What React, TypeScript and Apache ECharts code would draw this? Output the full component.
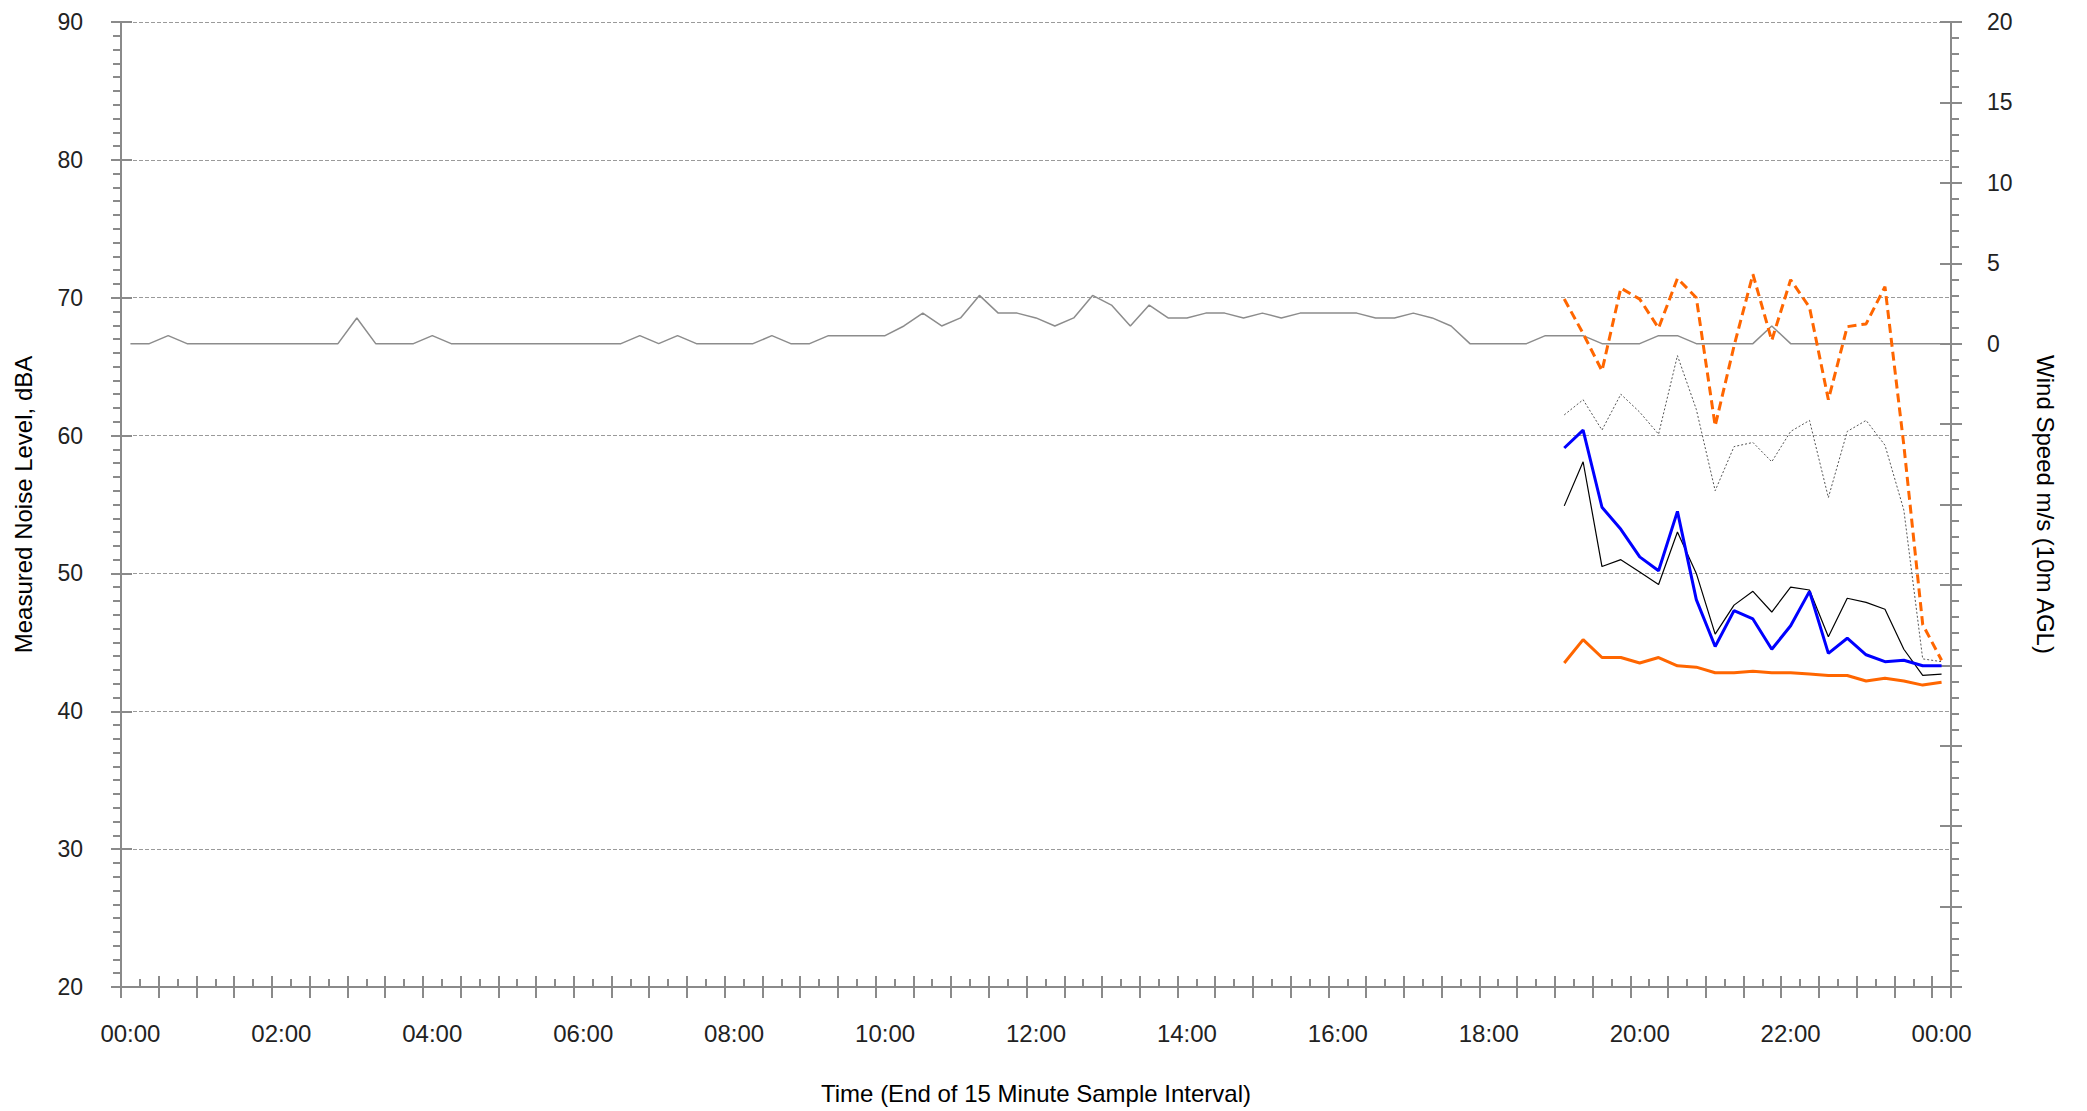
import React, { useEffect, useRef } from "react";
import * as echarts from "echarts";

// 15-minute categories from 00:00 to 00:00 (next day)
const categories: string[] = [];
for (let i = 0; i <= 96; i++) {
  const h = Math.floor(i / 4) % 24;
  const m = (i % 4) * 15;
  categories.push(`${String(h).padStart(2, "0")}:${String(m).padStart(2, "0")}`);
}

// Wind speed (m/s, right axis), full day
const windSpeed: number[] = [
  0, 0, 0.5, 0, 0, 0, 0, 0, 0, 0, 0, 0, 1.6, 0, 0, 0, 0.5, 0, 0, 0, 0, 0, 0, 0,
  0, 0, 0, 0.5, 0, 0.5, 0, 0, 0, 0, 0.5, 0, 0, 0.5, 0.5, 0.5, 0.5, 1.1, 1.9, 1.1,
  1.6, 3.0, 1.9, 1.9, 1.6, 1.1, 1.6, 3.0, 2.4, 1.1, 2.4, 1.6, 1.6, 1.9, 1.9, 1.6,
  1.9, 1.6, 1.9, 1.9, 1.9, 1.9, 1.6, 1.6, 1.9, 1.6, 1.1, 0, 0, 0, 0, 0.5, 0.5, 0.5,
  0, 0, 0, 0.5, 0.5, 0, 0, 0, 0, 1.1, 0, 0, 0, 0, 0, 0, 0, 0, 0,
];

// Noise measurements start at 19:00 (category index 76)
const START = 76;
const noiseMaxDashed: number[] = [
  69.9, 67.4, 64.7, 70.7, 69.9, 67.8, 71.4, 70.0, 60.7, 66.5, 71.7, 66.9, 71.3,
  69.3, 62.6, 67.9, 68.1, 70.8, 59.3, 46.3, 43.7,
];
const noiseDotted: number[] = [
  61.5, 62.6, 60.4, 63.0, 61.7, 60.1, 65.8, 61.9, 56.0, 59.2, 59.5, 58.1, 60.3,
  61.1, 55.5, 60.3, 61.1, 59.3, 54.6, 43.8, 43.6,
];
const noiseBlack: number[] = [
  54.9, 58.1, 50.5, 51.0, 50.1, 49.2, 53.0, 50.0, 45.6, 47.7, 48.7, 47.2, 49.0,
  48.8, 45.4, 48.2, 47.9, 47.4, 44.5, 42.6, 42.7,
];
const noiseBlue: number[] = [
  59.1, 60.4, 54.8, 53.2, 51.2, 50.2, 54.5, 48.1, 44.7, 47.3, 46.7, 44.5, 46.2,
  48.7, 44.2, 45.3, 44.1, 43.6, 43.7, 43.3, 43.3,
];
const noiseOrange: number[] = [
  43.5, 45.2, 43.9, 43.9, 43.5, 43.9, 43.3, 43.2, 42.8, 42.8, 42.9, 42.8, 42.8,
  42.7, 42.6, 42.6, 42.2, 42.4, 42.2, 41.9, 42.1,
];

const pad = (arr: number[]) => {
  const out: (number | null)[] = [];
  for (let i = 0; i < START; i++) out.push(null);
  return out.concat(arr);
};

const FONT = "'Liberation Sans', Arial, Helvetica, sans-serif";
const AXIS_COLOR = "#8a8a8a";
const LABEL_COLOR = "#222";

export default function App() {
  const ref = useRef<HTMLDivElement>(null);
  useEffect(() => {
    if (!ref.current) return;
    const chart = echarts.init(ref.current, undefined, { renderer: "svg" });
    const tickStyle = { color: AXIS_COLOR, width: 2 };
    const option: any = {
      animation: false,
      backgroundColor: "#fff",
      textStyle: { fontFamily: FONT },
      grid: { left: 121, right: 136, top: 22, bottom: 124, containLabel: false },
      xAxis: [
        {
          type: "category",
          data: categories,
          boundaryGap: true,
          position: "bottom",
          axisLine: { show: true, onZero: false, lineStyle: { color: AXIS_COLOR, width: 2 } },
          axisTick: { show: true, interval: 1, length: 11, inside: false, lineStyle: tickStyle },
          axisLabel: { interval: 7, margin: 34, fontSize: 24, color: LABEL_COLOR, fontFamily: FONT },
          splitLine: { show: false },
          name: "Time (End of 15 Minute Sample Interval)",
          nameLocation: "middle",
          nameGap: 94,
          nameTextStyle: { fontSize: 24, color: "#000", fontFamily: FONT },
        },
        {
          type: "category",
          data: categories,
          boundaryGap: true,
          position: "bottom",
          axisLine: { show: false, onZero: false },
          axisTick: { show: true, interval: 1, length: 11, inside: true, lineStyle: tickStyle },
          axisLabel: { show: false },
          splitLine: { show: false },
        },
        {
          type: "category",
          data: categories,
          boundaryGap: true,
          position: "bottom",
          axisLine: { show: false, onZero: false },
          axisTick: { show: true, interval: 0, length: 8, inside: true, lineStyle: tickStyle },
          axisLabel: { show: false },
          splitLine: { show: false },
        },
      ],
      yAxis: [
        {
          type: "value",
          position: "left",
          min: 20,
          max: 90,
          interval: 10,
          axisLine: { show: true, onZero: false, lineStyle: { color: AXIS_COLOR, width: 2 } },
          axisTick: { show: true, length: 10, inside: false, lineStyle: tickStyle },
          minorTick: { show: true, splitNumber: 10, length: 8, lineStyle: tickStyle },
          axisLabel: { margin: 38, fontSize: 23, color: LABEL_COLOR, fontFamily: FONT },
          splitLine: { show: true, lineStyle: { color: "#9a9a9a", width: 1, type: [4, 2] } },
          name: "Measured Noise Level, dBA",
          nameLocation: "middle",
          nameRotate: 90,
          nameGap: 86,
          nameTextStyle: { fontSize: 24, color: "#000", fontFamily: FONT },
        },
        {
          type: "value",
          position: "right",
          min: -40,
          max: 20,
          interval: 5,
          axisLine: { show: true, onZero: false, lineStyle: { color: AXIS_COLOR, width: 2 } },
          axisTick: { show: true, length: 11, inside: false, lineStyle: tickStyle },
          minorTick: { show: true, splitNumber: 5, length: 8, lineStyle: tickStyle },
          axisLabel: {
            margin: 36,
            fontSize: 23,
            color: LABEL_COLOR,
            fontFamily: FONT,
            formatter: (v: number) => (v >= 0 ? String(v) : ""),
          },
          splitLine: { show: false },
          name: "Wind Speed m/s (10m AGL)",
          nameLocation: "middle",
          nameRotate: -90,
          nameGap: 82,
          nameTextStyle: { fontSize: 24, color: "#000", fontFamily: FONT },
        },
        {
          type: "value",
          position: "left",
          min: 20,
          max: 90,
          interval: 10,
          axisLine: { show: false, onZero: false },
          axisTick: { show: true, length: 11, inside: true, lineStyle: tickStyle },
          axisLabel: { show: false },
          splitLine: { show: false },
        },
        {
          type: "value",
          position: "right",
          min: -40,
          max: 20,
          interval: 5,
          axisLine: { show: false, onZero: false },
          axisTick: { show: true, length: 11, inside: true, lineStyle: tickStyle },
          axisLabel: { show: false },
          splitLine: { show: false },
        },
      ],
      series: [
        {
          name: "Wind Speed",
          type: "line",
          xAxisIndex: 0,
          yAxisIndex: 1,
          data: windSpeed,
          symbol: "none",
          lineStyle: { color: "#8c8c8c", width: 1.5 },
          z: 2,
        },
        {
          name: "Dotted",
          type: "line",
          xAxisIndex: 0,
          yAxisIndex: 0,
          data: pad(noiseDotted),
          symbol: "none",
          lineStyle: { color: "#555", width: 1, type: [2, 2] },
          z: 3,
        },
        {
          name: "Black",
          type: "line",
          xAxisIndex: 0,
          yAxisIndex: 0,
          data: pad(noiseBlack),
          symbol: "none",
          lineStyle: { color: "#000", width: 1.2 },
          z: 4,
        },
        {
          name: "Orange",
          type: "line",
          xAxisIndex: 0,
          yAxisIndex: 0,
          data: pad(noiseOrange),
          symbol: "none",
          lineStyle: { color: "#ff6600", width: 3 },
          z: 5,
        },
        {
          name: "Blue",
          type: "line",
          xAxisIndex: 0,
          yAxisIndex: 0,
          data: pad(noiseBlue),
          symbol: "none",
          lineStyle: { color: "#0000ff", width: 3 },
          z: 6,
        },
        {
          name: "Max",
          type: "line",
          xAxisIndex: 0,
          yAxisIndex: 0,
          data: pad(noiseMaxDashed),
          symbol: "none",
          lineStyle: { color: "#ff6600", width: 3, type: [9, 5] },
          z: 7,
        },
      ],
    };
    chart.setOption(option);
    return () => chart.dispose();
  }, []);
  return (
    <div
      ref={ref}
      style={{ position: "absolute", left: 0, top: 0, width: 2087, height: 1111 }}
    />
  );
}
